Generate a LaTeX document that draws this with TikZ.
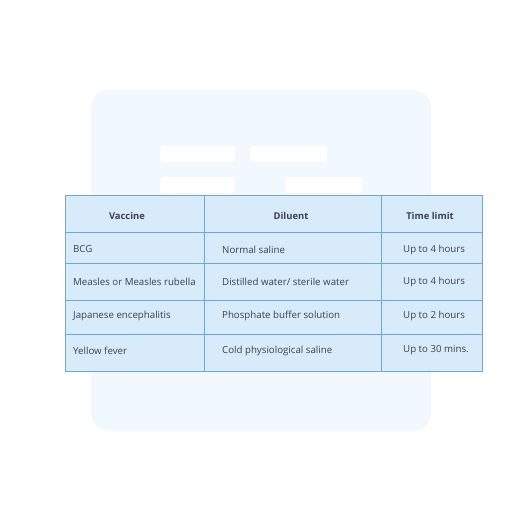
\documentclass[tikz,border=0pt]{standalone}
\usepackage{fontspec}
\setmainfont{Open Sans}
\definecolor{bgpanel}{HTML}{F1F9FE}
\definecolor{cellfill}{HTML}{D8EBFA}
\definecolor{gridline}{HTML}{6EA6D6}
\definecolor{txt}{HTML}{3A4150}
\begin{document}
\begin{tikzpicture}[x=1pt,y=-1pt,
  panel/.style={fill=bgpanel,draw=none,rounded corners=18pt},
  bar/.style={fill=white,draw=none,rounded corners=3pt},
  grid/.style={draw=gridline,line width=0.9pt},
  cell/.style={text=txt,font=\fontsize{9.7}{11}\selectfont,anchor=west,inner sep=0pt},
  head/.style={text=txt,font=\fontsize{9.4}{11}\selectfont\bfseries,anchor=center,inner sep=0pt}]
\useasboundingbox (0,0) rectangle (520,520);
\fill[white] (0,0) rectangle (520,520);
\path[panel] (91,90) rectangle (431,431);
\path[bar] (160,146) rectangle (235,162);
\path[bar] (250,146) rectangle (327,162);
\path[bar] (160,177) rectangle (235,193);
\path[bar] (285,177) rectangle (362,193);
% table
\fill[cellfill] (65,195) rectangle (482,371);
\draw[grid] (65,195) rectangle (482,371);
\draw[grid] (204,195) -- (204,371);
\draw[grid] (381,195) -- (381,371);
\draw[grid] (65,232) -- (482,232);
\draw[grid] (65,263) -- (482,263);
\draw[grid] (65,300) -- (482,300);
\draw[grid] (65,334) -- (482,334);
% header
\node[head] (h1) at (127,215.5) {Vaccine};
\node[head] (h2) at (291,215.5) {Diluent};
\node[head] (h3) at (430,215.5) {Time limit};
% rows
\node[cell] (a1) at (73,249.5) {BCG};
\node[cell] (b1) at (222,249.5) {Normal saline};
\node[cell] (c1) at (403,249.5) {Up to 4 hours};
\node[cell] (a2) at (73,281.5) {Measles or Measles rubella};
\node[cell] (b2) at (222,281.5) {Distilled water/ sterile water};
\node[cell] (c2) at (403,281.5) {Up to 4 hours};
\node[cell] (a3) at (73,315.5) {Japanese encephalitis};
\node[cell] (b3) at (222,315.5) {Phosphate buffer solution};
\node[cell] (c3) at (403,315.5) {Up to 2 hours};
\node[cell] (a4) at (73,350.5) {Yellow fever};
\node[cell] (b4) at (222,350.5) {Cold physiological saline};
\node[cell] (c4) at (403,350.5) {Up to 30 mins.};
\end{tikzpicture}
\end{document}
